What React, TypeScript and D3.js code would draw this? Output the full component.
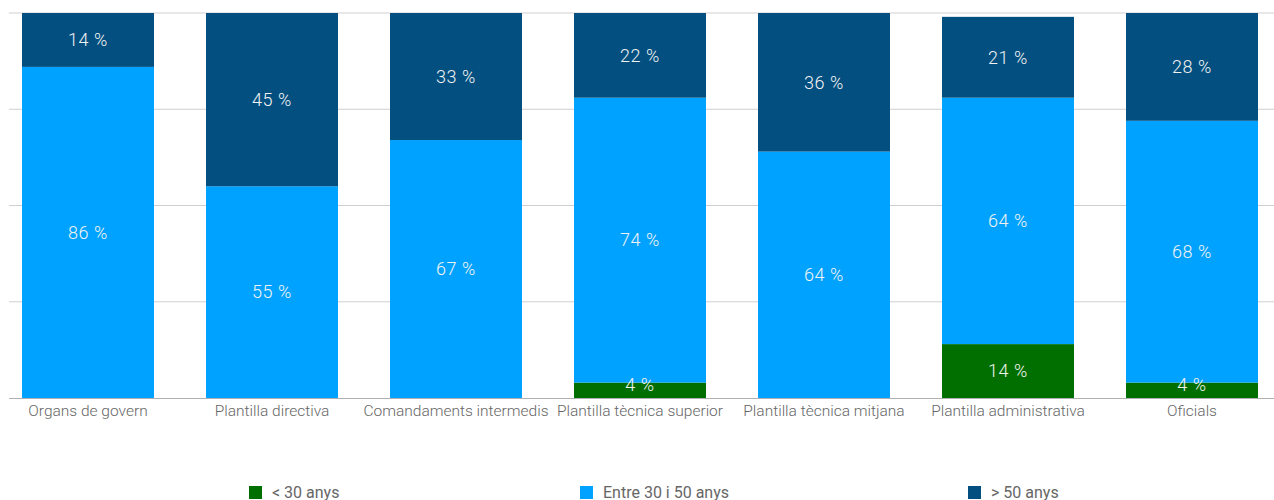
import React from "react";
import * as d3 from "d3";

const categories = [
  "Organs de govern",
  "Plantilla directiva",
  "Comandaments intermedis",
  "Plantilla tècnica superior",
  "Plantilla tècnica mitjana",
  "Plantilla administrativa",
  "Oficials",
];
const seriesNames = ["< 30 anys", "Entre 30 i 50 anys", "> 50 anys"];
const under30 = [0, 0, 0, 4, 0, 14, 4];
const between30and50 = [86, 55, 67, 74, 64, 64, 68];
const over50 = [14, 45, 33, 22, 36, 21, 28];
const yTicks = [0, 25, 50, 75, 100];
const colors = ["#006f00", "#00a2ff", "#024f80"];

const W = 1274;
const H = 500;

export default function App() {
  const x = d3
    .scaleBand<string>()
    .domain(categories)
    .range([-4, 1284])
    .paddingInner(52 / 184)
    .paddingOuter(26 / 184);
  const y = d3.scaleLinear().domain([0, 100]).range([398, 13]);

  const rows = categories.map((c, i) => ({
    cat: c,
    s0: under30[i],
    s1: between30and50[i],
    s2: over50[i],
  }));
  const stack = d3.stack<any>().keys(["s0", "s1", "s2"]);
  const series = stack(rows);

  const legendX = [249, 580, 968];

  return (
    <svg
      width={W}
      height={H}
      style={{ position: "absolute", left: 0, top: 0, fontFamily: "Roboto, sans-serif" }}
    >
      {yTicks.slice(1).map((t) => (
        <line key={t} x1={9} x2={W} y1={y(t)} y2={y(t)} stroke="#d0d0d0" strokeWidth={1} />
      ))}
      {series.map((s, si) =>
        s.map((d, i) => {
          const v = d[1] - d[0];
          if (v <= 0) return null;
          return (
            <rect
              key={`${si}-${i}`}
              x={x(categories[i])}
              y={y(d[1])}
              width={x.bandwidth()}
              height={y(d[0]) - y(d[1])}
              fill={colors[si]}
            />
          );
        })
      )}
      {series.map((s, si) =>
        s.map((d, i) => {
          const v = d[1] - d[0];
          if (v <= 0) return null;
          const cy = Math.min((y(d[0]) + y(d[1])) / 2, y(0) - 13);
          return (
            <text
              key={`t${si}-${i}`}
              x={(x(categories[i]) as number) + x.bandwidth() / 2}
              y={cy}
              dy="0.35em"
              textAnchor="middle"
              fill="#f2f2f2"
              fontSize={18}
              fontWeight={300}
              letterSpacing={0.6}
            >
              {`${v} %`}
            </text>
          );
        })
      )}
      <line x1={9} x2={W} y1={y(0) + 0.5} y2={y(0) + 0.5} stroke="#b0b0b0" strokeWidth={1} />
      {categories.map((c) => (
        <text
          key={c}
          x={(x(c) as number) + x.bandwidth() / 2}
          y={416}
          textAnchor="middle"
          fill="#666"
          fontSize={15.5}
          fontWeight={300}
        >
          {c}
        </text>
      ))}
      {seriesNames.map((n, i) => (
        <g key={n} transform={`translate(${legendX[i]},486)`}>
          <rect x={0} y={0} width={13} height={13} fill={colors[i]} />
          <text
            x={23}
            y={12}
            fill="#666"
            fontSize={16}
            style={{ fontFamily: "'Liberation Sans Narrow', 'Roboto', sans-serif" }}
          >
            {n}
          </text>
        </g>
      ))}
    </svg>
  );
}
